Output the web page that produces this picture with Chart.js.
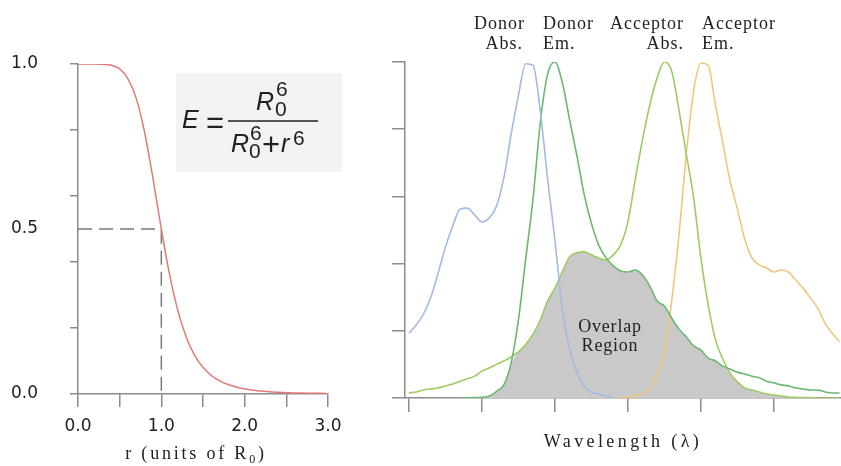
<!DOCTYPE html>
<html>
<head>
<meta charset="utf-8">
<script src="https://cdn.jsdelivr.net/npm/chart.js@4/dist/chart.umd.min.js"></script>
<style>
  html, body { margin: 0; padding: 0; background: #fff; }
  #wrap { position: relative; width: 841px; height: 466px; overflow: hidden; }
  canvas { position: absolute; left: 0; top: 0; }
</style>
</head>
<body>
<div id="wrap">
  <canvas id="eff" width="841" height="466"></canvas>
  <canvas id="spec" width="841" height="466"></canvas>
</div>
<script>
// ---- FRET efficiency vs. donor–acceptor distance ----
const distance = [0, 0.1, 0.2, 0.3, 0.4, 0.5, 0.6, 0.7, 0.8, 0.9, 1.0, 1.1, 1.2, 1.3, 1.4, 1.5,
                  1.6, 1.7, 1.8, 1.9, 2.0, 2.1, 2.2, 2.3, 2.4, 2.5, 2.6, 2.7, 2.8, 2.9, 3.0];
const efficiency = [1.0, 1.0, 1.0, 0.999, 0.996, 0.985, 0.955, 0.895, 0.792, 0.653, 0.5, 0.361,
                    0.251, 0.172, 0.117, 0.081, 0.056, 0.040, 0.029, 0.021, 0.015, 0.012, 0.009,
                    0.007, 0.005, 0.004, 0.003, 0.003, 0.002, 0.002, 0.001];
// guide marking E = 0.5 at r = R0
const guideX = [0, 1, 1];
const guideY = [0.5, 0.5, 0];
const effTickValues = [0, 0.2, 0.4, 0.5, 0.6, 0.8, 1.0];
const effTickLabels = ['0.0', '', '', '0.5', '', '', '1.0'];
const distTickLabels = ['0.0', '', '1.0', '', '2.0', '', '3.0'];

// ---- Spectra (arbitrary wavelength units, 5-unit steps) ----
const wavelength = [400, 405, 410, 415, 420, 425, 430, 435, 440, 445, 450, 455, 460, 465, 470,
                    475, 480, 485, 490, 495, 500, 505, 510, 515, 520, 525, 530, 535, 540, 545,
                    550, 555, 560, 565, 570, 575, 580, 585, 590, 595, 600, 605, 610, 615, 620,
                    625, 630, 635, 640, 645, 650, 655, 660, 665, 670, 675, 680, 685, 690, 695];
const donorAbs = [0.193, 0.217, 0.25, 0.30, 0.372, 0.449, 0.512, 0.562, 0.565, 0.545, 0.524, 0.536,
                  0.571, 0.655, 0.785, 0.90, 0.995, 0.99, 0.854, 0.652, 0.47, 0.268, 0.146, 0.077,
                  0.036, 0.018, 0.012, 0.006, 0.003,
                  null, null, null, null, null, null, null, null, null, null, null, null, null, null,
                  null, null, null, null, null, null, null, null, null, null, null, null, null, null,
                  null, null, null, null];
const donorEm = [null, null, null, null, null, null, null,
                 0, 0, 0.001, 0.002, 0.006, 0.02, 0.039, 0.104, 0.232, 0.414, 0.592, 0.82, 0.964,
                 1.0, 0.94, 0.83, 0.723, 0.607, 0.52, 0.455, 0.417, 0.393, 0.378, 0.375, 0.381,
                 0.366, 0.333, 0.289, 0.274, 0.238, 0.205, 0.182, 0.155, 0.143, 0.119, 0.110, 0.095,
                 0.086, 0.077, 0.071, 0.065, 0.06, 0.05, 0.045, 0.039, 0.036, 0.03, 0.027, 0.024,
                 0.024, 0.018, 0.015, 0.015];
const acceptorAbs = [0.015, 0.018, 0.024, 0.027, 0.03, 0.036, 0.042, 0.05, 0.057, 0.065, 0.08, 0.089,
                     0.10, 0.11, 0.122, 0.137, 0.16, 0.19, 0.232, 0.289, 0.327, 0.375, 0.42, 0.432,
                     0.435, 0.426, 0.417, 0.41, 0.426, 0.455, 0.524, 0.649, 0.768, 0.872, 0.952, 1.0,
                     0.973, 0.857, 0.726, 0.598, 0.417, 0.277, 0.173, 0.116, 0.074, 0.048, 0.03, 0.024,
                     0.018, 0.012, 0.009, 0.006, 0.003, 0.002, 0.001, 0.001, 0, 0, 0, 0];
const acceptorEm = [null, null, null, null, null, null, null, null, null, null, null, null, null, null,
                    null, null, null, null, null, null, null, null, null, null, null, null, null, null,
                    0, 0, 0.003, 0.006, 0.015, 0.03, 0.068, 0.14, 0.289, 0.485, 0.726, 0.912, 0.997,
                    0.99, 0.872, 0.76, 0.646, 0.563, 0.473, 0.417, 0.396, 0.387, 0.375, 0.381, 0.375,
                    0.351, 0.327, 0.298, 0.268, 0.223, 0.193, 0.167];
const specTicks = [400, 450, 500, 550, 600, 650];

// spectral overlap: the smaller of donor emission and acceptor absorption
const overlap = wavelength.map((w, i) =>
  donorEm[i] === null || acceptorAbs[i] === null ? null : Math.min(donorEm[i], acceptorAbs[i]));

const AXIS = '#8c8c8c';
const INK = '#222';
const SERIF = '"Liberation Serif", "Times New Roman", serif';
const SANS = '"Liberation Sans", Arial, sans-serif';

function pts(xs, ys) { return xs.map((x, i) => ({ x: x, y: ys[i] })); }

function drawText(ctx, s, x, y, font, align, spacing) {
  ctx.save();
  ctx.font = font;
  ctx.letterSpacing = (spacing || 0) + 'px';
  ctx.textAlign = align || 'left';
  ctx.textBaseline = 'alphabetic';
  ctx.fillStyle = INK;
  ctx.fillText(s, x, y);
  ctx.restore();
}

function textWidth(ctx, s, font, spacing) {
  ctx.save();
  ctx.font = font;
  ctx.letterSpacing = (spacing || 0) + 'px';
  const w = ctx.measureText(s).width;
  ctx.restore();
  return w;
}

// formula box and axis title for the efficiency panel
const effDecor = {
  id: 'effDecor',
  afterDraw(chart) {
    const ctx = chart.ctx;
    ctx.save();
    ctx.fillStyle = '#f3f3f3';
    ctx.fillRect(176, 73, 166, 99);

    const it = 'italic 25px ' + SANS;
    const op = '31px ' + SANS;
    const sm = '21px ' + SANS;
    drawText(ctx, 'E', 182, 128, it);
    drawText(ctx, '=', 206, 133, op);
    ctx.strokeStyle = INK;
    ctx.lineWidth = 1.6;
    ctx.beginPath(); ctx.moveTo(228, 121); ctx.lineTo(318, 121); ctx.stroke();
    // numerator R0^6
    drawText(ctx, 'R', 256, 110, it);
    drawText(ctx, '6', 276, 96, sm);
    drawText(ctx, '0', 275, 116, sm);
    // denominator R0^6 + r^6
    drawText(ctx, 'R', 231, 152, it);
    drawText(ctx, '6', 250, 140, sm);
    drawText(ctx, '0', 249, 158, sm);
    drawText(ctx, '+', 262, 155, op);
    drawText(ctx, 'r', 281, 152, it);
    drawText(ctx, '6', 293, 145, sm);

    // x-axis title: r (units of R0)
    const f1 = '18px ' + SERIF, f0 = '12px ' + SERIF, sp = 2.8;
    const a = 'r (units of R', b = '0', c = ')';
    const wa = textWidth(ctx, a, f1, sp), wb = textWidth(ctx, b, f0, sp), wc = textWidth(ctx, c, f1, sp);
    let x = 196 - (wa + wb + wc) / 2;
    drawText(ctx, a, x, 459, f1, 'left', sp); x += wa;
    drawText(ctx, b, x, 463, f0, 'left', sp); x += wb;
    drawText(ctx, c, x, 459, f1, 'left', sp);
    ctx.restore();
  }
};

new Chart(document.getElementById('eff'), {
  type: 'line',
  data: {
    datasets: [
      { data: pts(distance, efficiency), borderColor: '#e07a76', borderWidth: 1.5,
        pointRadius: 0, cubicInterpolationMode: 'monotone', fill: false },
      { data: pts(guideX, guideY), borderColor: '#7a7a7a', borderWidth: 1.5,
        borderDash: [14, 7], pointRadius: 0, tension: 0, fill: false }
    ]
  },
  options: {
    responsive: false, animation: false, events: [],
    layout: { padding: { left: 0, right: 841 - 328, top: 64, bottom: 0 } },
    plugins: { legend: { display: false }, tooltip: { enabled: false } },
    scales: {
      x: {
        type: 'linear', min: 0, max: 3,
        border: { color: AXIS, width: 1.5 },
        grid: { drawOnChartArea: false, color: AXIS, lineWidth: 1.5, tickLength: 13 },
        afterBuildTicks: s => { s.ticks = [0, 0.5, 1, 1.5, 2, 2.5, 3].map(v => ({ value: v })); },
        ticks: { autoSkip: false, maxRotation: 0, padding: 9, color: INK,
                 font: { family: 'DejaVu Sans', size: 17 },
                 callback: (v, i) => distTickLabels[i] },
        afterFit: s => { s.height = 466 - 394; }
      },
      y: {
        type: 'linear', min: 0, max: 1,
        border: { color: AXIS, width: 1.5 },
        grid: { drawOnChartArea: false, lineWidth: 1.5, tickLength: 8,
                color: c => (c.tick && c.tick.value === 0.5 ? 'rgba(0,0,0,0)' : AXIS) },
        afterBuildTicks: s => { s.ticks = effTickValues.map(v => ({ value: v })); },
        ticks: { autoSkip: false, padding: 32, color: INK,
                 font: { family: 'DejaVu Sans', size: 17 },
                 callback: (v, i) => effTickLabels[i] },
        afterFit: s => { s.width = 78; }
      }
    }
  },
  plugins: [effDecor]
});

// curve names, overlap label and axis title for the spectra panel
const specDecor = {
  id: 'specDecor',
  afterDatasetsDraw(chart) {
    const ctx = chart.ctx;
    const f = '18px ' + SERIF;
    drawText(ctx, 'Donor', 525, 29, f, 'right', 1);
    drawText(ctx, 'Abs.', 523, 49, f, 'right', 1);
    drawText(ctx, 'Donor', 543, 29, f, 'left', 1);
    drawText(ctx, 'Em.', 543, 49, f, 'left', 1);
    drawText(ctx, 'Acceptor', 684, 29, f, 'right', 1);
    drawText(ctx, 'Abs.', 684, 49, f, 'right', 1);
    drawText(ctx, 'Acceptor', 702, 29, f, 'left', 1);
    drawText(ctx, 'Em.', 702, 49, f, 'left', 1);
    drawText(ctx, 'Overlap', 610, 332, f, 'center', 0.8);
    drawText(ctx, 'Region', 610, 351, f, 'center', 0.8);
    drawText(ctx, 'Wavelength (\u03bb)', 623, 447, f, 'center', 3.4);
  }
};

const line = (ys, color) => ({
  data: pts(wavelength, ys), borderColor: color, borderWidth: 1.6, pointRadius: 0,
  cubicInterpolationMode: 'monotone', fill: false, spanGaps: false, order: 1
});

new Chart(document.getElementById('spec'), {
  type: 'line',
  data: {
    datasets: [
      { data: pts(wavelength, overlap), borderWidth: 0, borderColor: 'rgba(0,0,0,0)',
        backgroundColor: '#c9c9c9', pointRadius: 0, cubicInterpolationMode: 'monotone',
        fill: 'origin', order: 10 },
      line(donorAbs, '#a2bbe2'),
      line(donorEm, '#6db870'),
      line(acceptorAbs, '#9dcc60'),
      line(acceptorEm, '#eec77e')
    ]
  },
  options: {
    responsive: false, animation: false, events: [],
    layout: { padding: { left: 0, right: 0, top: 62, bottom: 0 } },
    plugins: { legend: { display: false }, tooltip: { enabled: false } },
    scales: {
      x: {
        type: 'linear', min: 397.3, max: 696,
        border: { color: AXIS, width: 1.5 },
        grid: { drawOnChartArea: false, color: AXIS, lineWidth: 1.5, tickLength: 14 },
        afterBuildTicks: s => { s.ticks = specTicks.map(v => ({ value: v })); },
        ticks: { autoSkip: false, maxRotation: 0, callback: () => '' },
        afterFit: s => { s.height = 466 - 398; }
      },
      y: {
        type: 'linear', min: 0, max: 1,
        border: { color: AXIS, width: 1.5 },
        grid: { drawOnChartArea: false, color: AXIS, lineWidth: 1.5, tickLength: 13 },
        ticks: { stepSize: 0.2, autoSkip: false, callback: () => '' },
        afterFit: s => { s.width = 405; }
      }
    }
  },
  plugins: [specDecor]
});
</script>
</body>
</html>
